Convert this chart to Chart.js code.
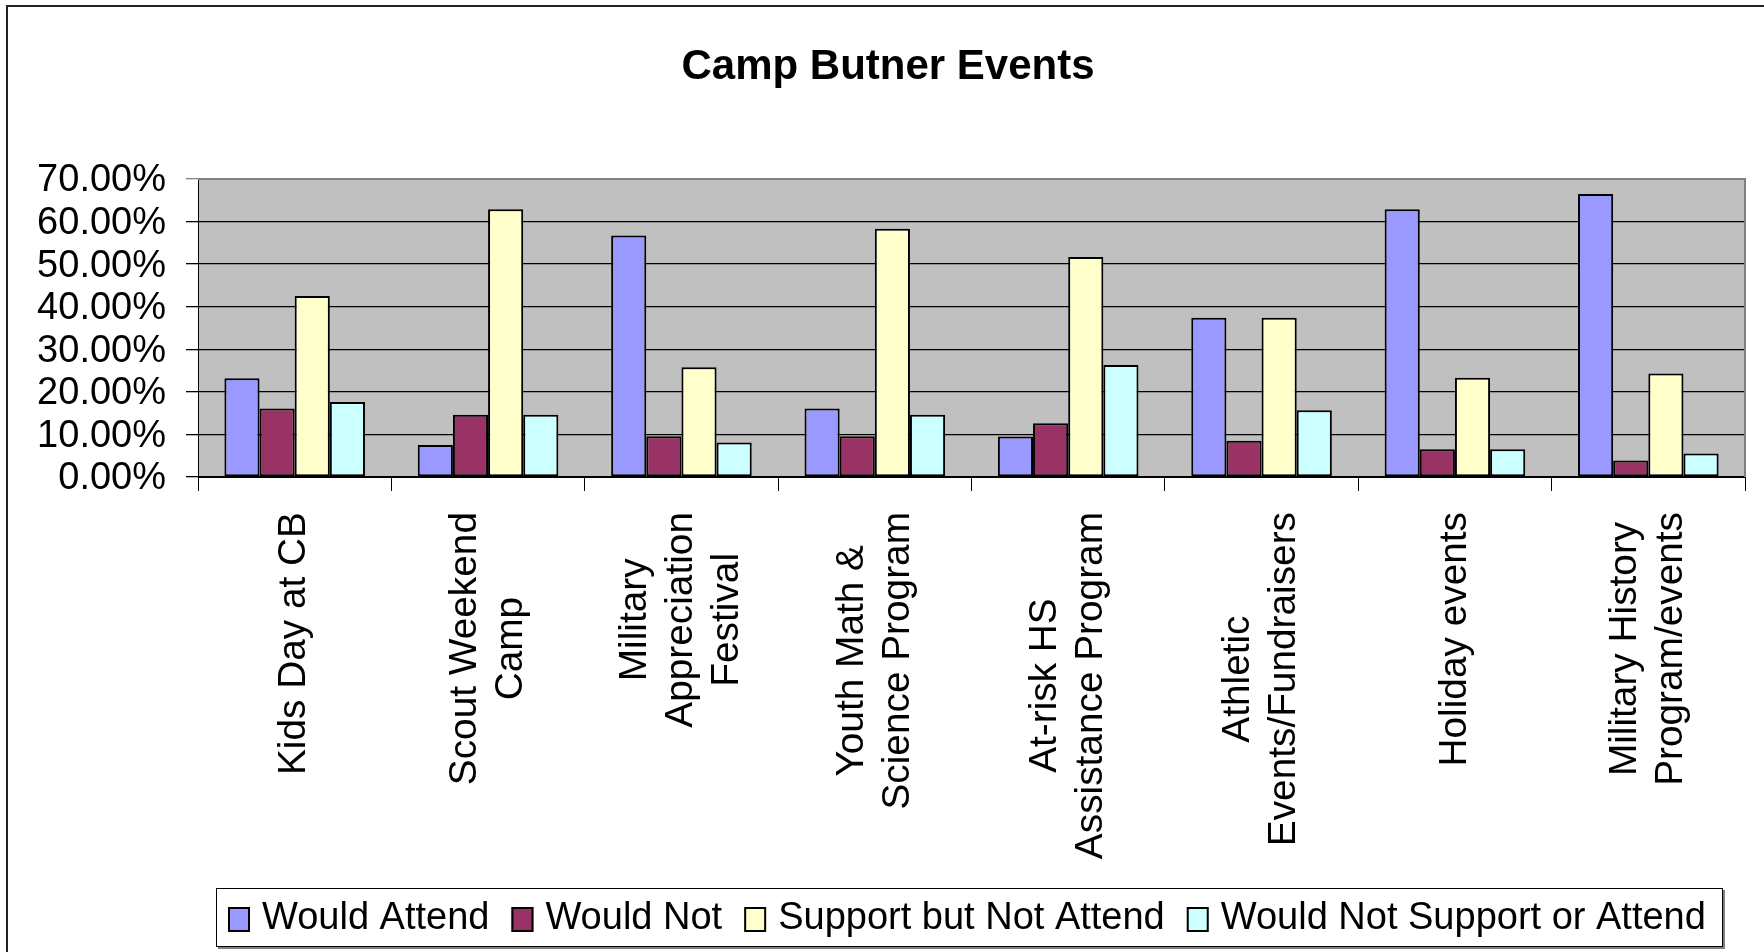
<!DOCTYPE html>
<html>
<head>
<meta charset="utf-8">
<script src="https://cdn.jsdelivr.net/npm/chart.js@4"></script>
<style>
  html, body { margin: 0; padding: 0; background: #fff; }
  #wrap { width: 1764px; height: 952px; position: relative; }
</style>
</head>
<body>
<div id="wrap"><canvas id="chart" width="1764" height="952"></canvas></div>
<script>
// chart data (percent)
const categories = [
  ['Kids Day at CB'],
  ['Scout Weekend', 'Camp'],
  ['Military', 'Appreciation', 'Festival'],
  ['Youth Math &', 'Science Program'],
  ['At-risk HS', 'Assistance Program'],
  ['Athletic', 'Events/Fundraisers'],
  ['Holiday events'],
  ['Military History', 'Program/events']
];
const seriesNames = ['Would Attend', 'Would Not', 'Support but Not Attend', 'Would Not Support or Attend'];
const wouldAttend = [23.2, 7.5, 56.7, 16.1, 9.5, 37.4, 62.9, 66.5];
const wouldNot = [16.1, 14.6, 9.6, 9.6, 12.6, 8.5, 6.5, 3.9];
const supportNotAttend = [42.5, 62.9, 25.8, 58.3, 51.7, 37.4, 23.3, 24.3];
const notSupportOrAttend = [17.6, 14.6, 8.1, 14.6, 26.3, 15.7, 6.5, 5.5];
const yMax = 70;
const yStep = 10;

const colors = ['#9999FF', '#993366', '#FFFFCC', '#CCFFFF'];
const FONT = '"Liberation Sans", Arial, sans-serif';

// background, borders, title, category labels and legend
const decorPlugin = {
  id: 'decor',
  beforeDraw(chart) {
    const ctx = chart.ctx;
    const a = chart.chartArea;
    ctx.save();
    ctx.fillStyle = '#fff';
    ctx.fillRect(0, 0, chart.width, chart.height);
    // outer chart frame (left and top visible)
    ctx.strokeStyle = '#222';
    ctx.lineWidth = 2;
    ctx.beginPath();
    ctx.moveTo(7, chart.height);
    ctx.lineTo(7, 6);
    ctx.lineTo(chart.width, 6);
    ctx.stroke();
    // plot background
    ctx.fillStyle = '#C0C0C0';
    ctx.fillRect(a.left, a.top, a.right - a.left, a.bottom - a.top);
    ctx.restore();
  },
  beforeDatasetsDraw(chart) {
    const ctx = chart.ctx;
    const a = chart.chartArea;
    ctx.save();
    ctx.strokeStyle = '#808080';
    ctx.lineWidth = 2;
    ctx.beginPath();
    ctx.moveTo(a.left, a.top);
    ctx.lineTo(a.right, a.top);
    ctx.lineTo(a.right, a.bottom);
    ctx.stroke();
    ctx.restore();
  },
  afterDraw(chart) {
    const ctx = chart.ctx;
    const xScale = chart.scales.x;
    ctx.save();

    // title
    ctx.fillStyle = '#000';
    ctx.font = 'bold 42px ' + FONT;
    ctx.textAlign = 'center';
    ctx.textBaseline = 'alphabetic';
    ctx.fillText('Camp Butner Events', 888, 79);

    // category labels, rotated, lines centred
    ctx.font = '38.8px ' + FONT;
    const lineH = 46;
    categories.forEach((lines, i) => {
      const x = xScale.getPixelForValue(i);
      const maxW = Math.max(...lines.map(l => ctx.measureText(l).width));
      ctx.save();
      ctx.translate(x, 512);
      ctx.rotate(-Math.PI / 2);
      ctx.textAlign = 'center';
      ctx.textBaseline = 'middle';
      lines.forEach((l, j) => {
        ctx.fillText(l, -maxW / 2, (j - (lines.length - 1) / 2) * lineH);
      });
      ctx.restore();
    });

    // legend
    const lx = 216, ly = 888, lw = 1507, lh = 59;
    ctx.fillStyle = '#808080';
    ctx.fillRect(lx + 2, ly + 2, lw, lh);
    ctx.fillStyle = '#fff';
    ctx.fillRect(lx, ly, lw, lh);
    ctx.strokeStyle = '#000';
    ctx.lineWidth = 1;
    ctx.strokeRect(lx + 0.5, ly + 0.5, lw - 1, lh - 1);

    ctx.font = '38px ' + FONT;
    ctx.textAlign = 'left';
    ctx.textBaseline = 'middle';
    let x = 228;
    chart.data.datasets.forEach(ds => {
      ctx.fillStyle = ds.backgroundColor;
      ctx.fillRect(x, 907, 22, 25);
      ctx.strokeStyle = '#000';
      ctx.lineWidth = 2;
      ctx.strokeRect(x + 1, 908, 20, 23);
      ctx.fillStyle = '#000';
      ctx.fillText(ds.label, x + 34, 919);
      x += 34 + ctx.measureText(ds.label).width + 22;
    });
    ctx.restore();
  }
};

const seriesValues = [wouldAttend, wouldNot, supportNotAttend, notSupportOrAttend];

new Chart(document.getElementById('chart'), {
  type: 'bar',
  data: {
    labels: categories,
    datasets: seriesValues.map((vals, i) => ({
      label: seriesNames[i],
      data: vals,
      backgroundColor: colors[i],
      borderColor: '#000',
      borderWidth: 2,
      borderSkipped: false,
      categoryPercentage: 0.727,
      barPercentage: 1.0
    }))
  },
  options: {
    responsive: false,
    animation: false,
    devicePixelRatio: 1,
    layout: { padding: { top: 179, right: 19, bottom: 0, left: 0 } },
    plugins: {
      legend: { display: false },
      title: { display: false },
      tooltip: { enabled: false }
    },
    scales: {
      x: {
        grid: {
          offset: true,
          drawOnChartArea: false,
          drawTicks: true,
          tickLength: 14,
          color: '#000',
          lineWidth: 1
        },
        border: { display: true, color: '#000', width: 1 },
        ticks: { display: false },
        afterFit(scale) { scale.height = 475; }
      },
      y: {
        min: 0,
        max: yMax,
        grid: {
          color: ctx => (ctx.tick && ctx.tick.value === yMax ? '#808080' : '#000'),
          lineWidth: 1.3,
          drawTicks: true,
          tickLength: 12
        },
        border: { display: true, color: '#000', width: 1 },
        ticks: {
          stepSize: yStep,
          autoSkip: false,
          padding: 20,
          labelOffset: 2,
          color: '#000',
          font: { family: FONT, size: 38 },
          callback: v => v.toFixed(2) + '%'
        },
        afterFit(scale) { scale.width = 198; }
      }
    }
  },
  plugins: [decorPlugin]
});
</script>
</body>
</html>
